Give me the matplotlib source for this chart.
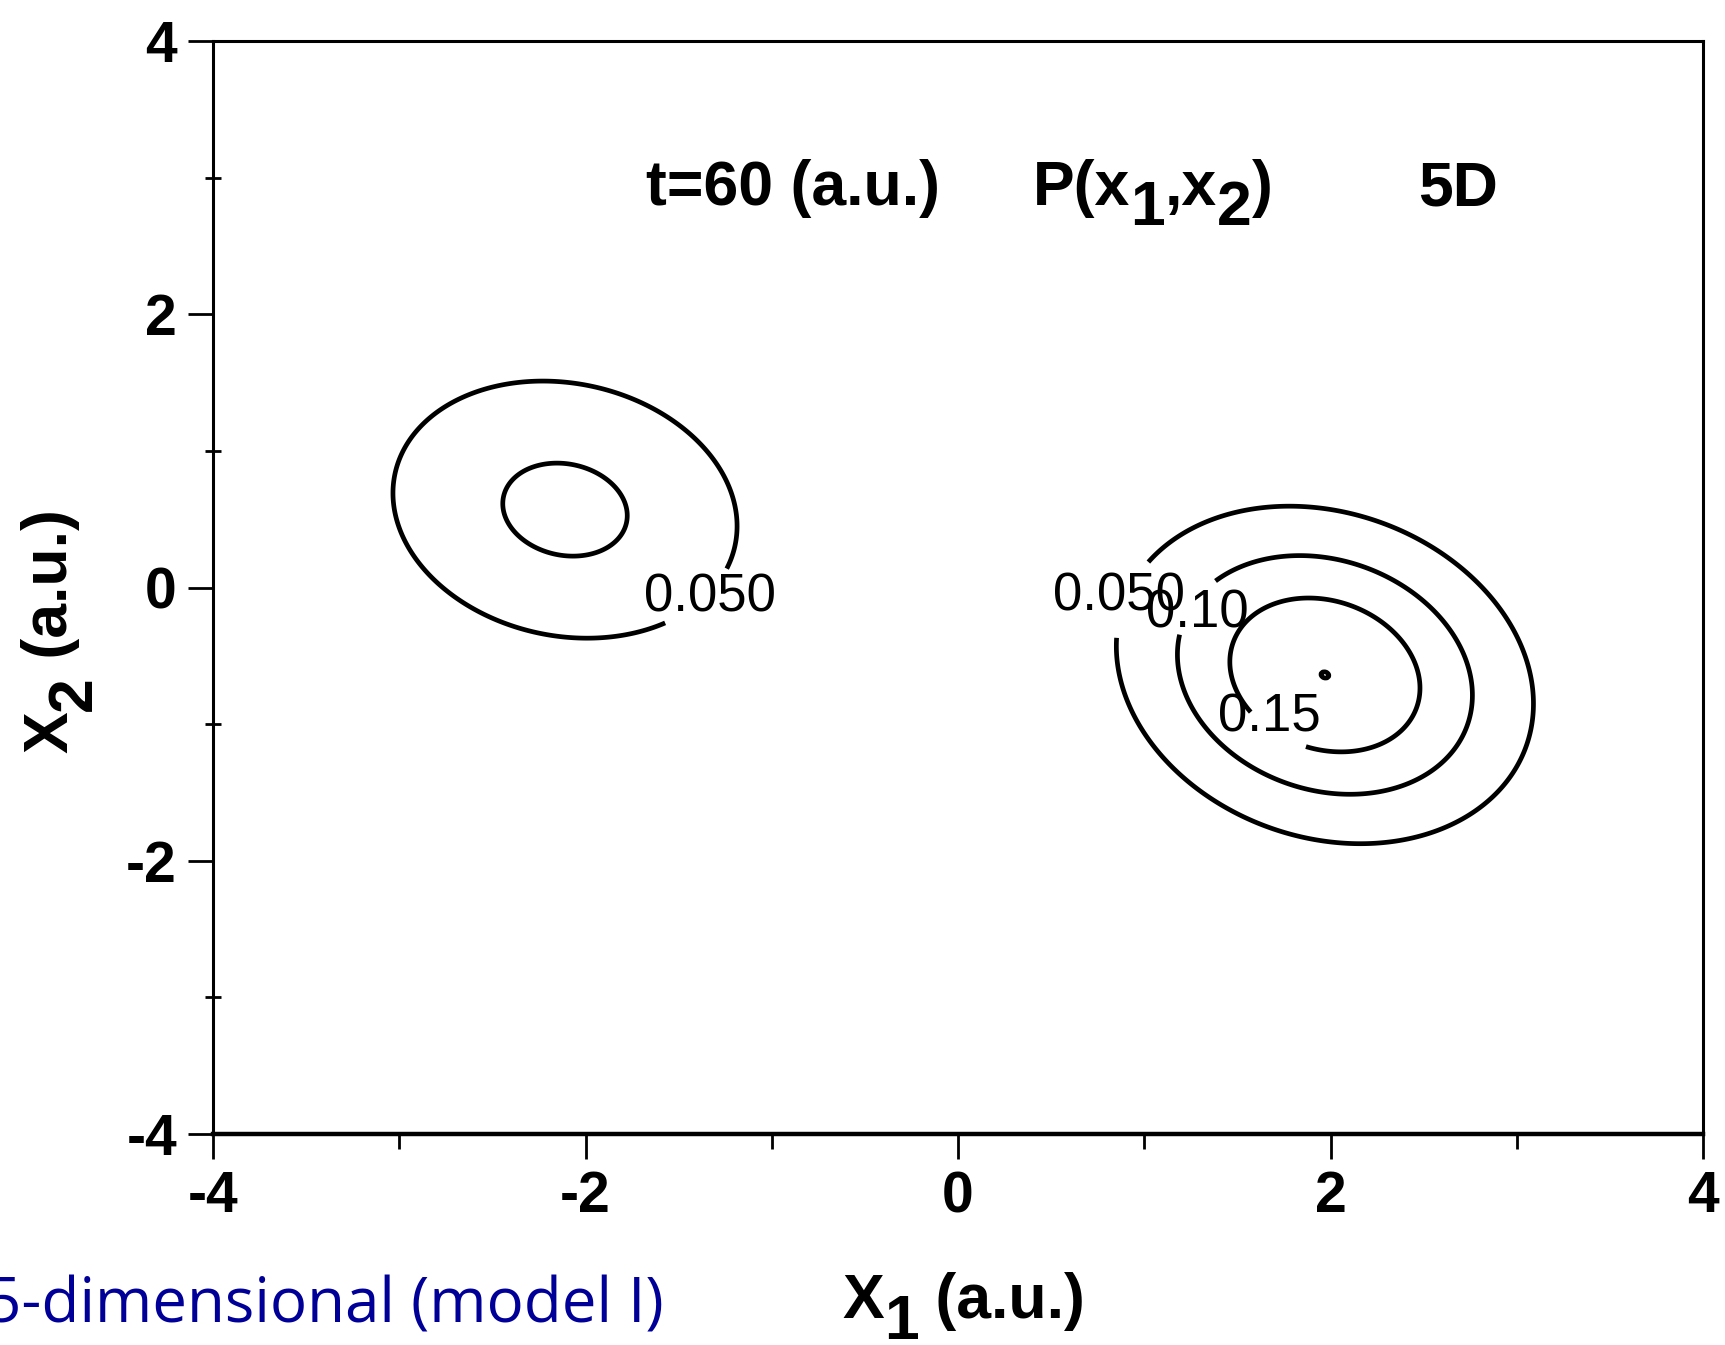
import numpy as np
import matplotlib.pyplot as plt

plt.rcParams["figure.dpi"] = 100
plt.rcParams["font.family"] = ["Liberation Sans", "DejaVu Sans"]
plt.rcParams["axes.unicode_minus"] = False

W, H = 1725, 1345

# two-peak probability density P(x1, x2): peak centres, heights and covariances
peak_x1 = [-2.11, 1.97]
peak_x2 = [0.57, -0.64]
peak_height = [0.111, 0.2001]
var_x1 = [0.535, 0.452]
var_x2 = [0.555, 0.550]
cov_x1x2 = [-0.07, -0.085]

levels = [0.05, 0.10, 0.15, 0.20]
level_fmt = {0.05: "0.050", 0.10: "0.10", 0.15: "0.15", 0.20: ""}
# where each labelled contour is broken, and where its label sits
label_at = [(-1.40, -0.07), (0.90, -0.07), (1.33, -0.19), (1.76, -0.95)]
label_text_at = [(-1.33, -0.07), (0.863, -0.064), (1.283, -0.187), (1.673, -0.95)]

x_ticks = [-4, -2, 0, 2, 4]
y_ticks = [-4, -2, 0, 2, 4]
minor_ticks = [-3, -1, 1, 3]

x1 = np.linspace(-4, 4, 801)
x2 = np.linspace(-4, 4, 801)
X1, X2 = np.meshgrid(x1, x2)
P = np.zeros_like(X1)
for cx, cy, a, vx, vy, c in zip(peak_x1, peak_x2, peak_height, var_x1, var_x2, cov_x1x2):
    det = vx * vy - c * c
    dx, dy = X1 - cx, X2 - cy
    q = (vy * dx * dx - 2 * c * dx * dy + vx * dy * dy) / det
    P += a * np.exp(-0.5 * q)

fig = plt.figure(figsize=(W / 100, H / 100))
ax = fig.add_axes([213 / W, 1 - 1134 / H, (1703 - 213) / W, (1134 - 41) / H])

cs = ax.contour(X1, X2, P, levels=levels, colors="k", linewidths=3.4)
labels = ax.clabel(cs, fmt=level_fmt, fontsize=23, inline=True,
                   inline_spacing=2, manual=label_at)
for t, pos in zip(labels, label_text_at):
    t.set_rotation(0)
    t.set_position(pos)
    t.set_fontsize(38)
    t.set_color("k")

ax.set_xlim(-4, 4)
ax.set_ylim(-4, 4)
ax.set_xticks(x_ticks)
ax.set_yticks(y_ticks)
ax.set_xticks(minor_ticks, minor=True)
ax.set_yticks(minor_ticks, minor=True)
ax.tick_params(which="major", direction="out", length=18, width=2.0,
               labelsize=41)
ax.tick_params(axis="x", which="major", pad=8)
ax.tick_params(axis="y", which="major", pad=8)
ax.tick_params(axis="x", which="minor", direction="out", length=11, width=2.0)
ax.tick_params(axis="y", which="minor", direction="inout", length=11, width=2.0)
for lab in ax.get_xticklabels() + ax.get_yticklabels():
    lab.set_fontweight("bold")
for side in ["left", "top", "right"]:
    ax.spines[side].set_linewidth(2.2)
ax.spines["bottom"].set_linewidth(3.2)


def text_run(parts, x, base, size, vertical=False):
    # lay out text pieces one after another; drop moves a piece below the baseline
    prev = None
    for s, drop in parts:
        kw = dict(fontsize=size, fontweight="bold", ha="left", va="baseline",
                  annotation_clip=False)
        if vertical:
            kw.update(rotation=90, rotation_mode="anchor")
            if prev is None:
                t = ax.annotate(s, xy=((x + drop) / W, 1 - base / H),
                                xycoords="figure fraction", **kw)
            else:
                t = ax.annotate(s, xy=((x + drop) / W, 1),
                                xycoords=("figure fraction", prev), **kw)
        else:
            if prev is None:
                t = ax.annotate(s, xy=(x / W, 1 - (base + drop) / H),
                                xycoords="figure fraction", **kw)
            else:
                t = ax.annotate(s, xy=(1, 1 - (base + drop) / H),
                                xycoords=(prev, "figure fraction"), **kw)
        prev = t


text_run([("t=60 (a.u.)", 0)], 646, 205, 45)
text_run([("P(x", 0), ("1", 20), (",x", 0), ("2", 20), (")", 0)], 1033, 205, 45)
text_run([("5D", 0)], 1418, 205, 45)
text_run([("X", 0), ("1", 21), (" (a.u.)", 0)], 842, 1318, 45)
text_run([("X", 0), ("2", 24), (" (a.u.)", 0)], 67, 753, 45, vertical=True)

fig.text(664 / W, 1 - 1322 / H, "5-dimensional (model I)", family="Open Sans",
         fontsize=44.6, color="#000099", ha="right", va="baseline")

fig.savefig("out.png", dpi=100, facecolor="white")
